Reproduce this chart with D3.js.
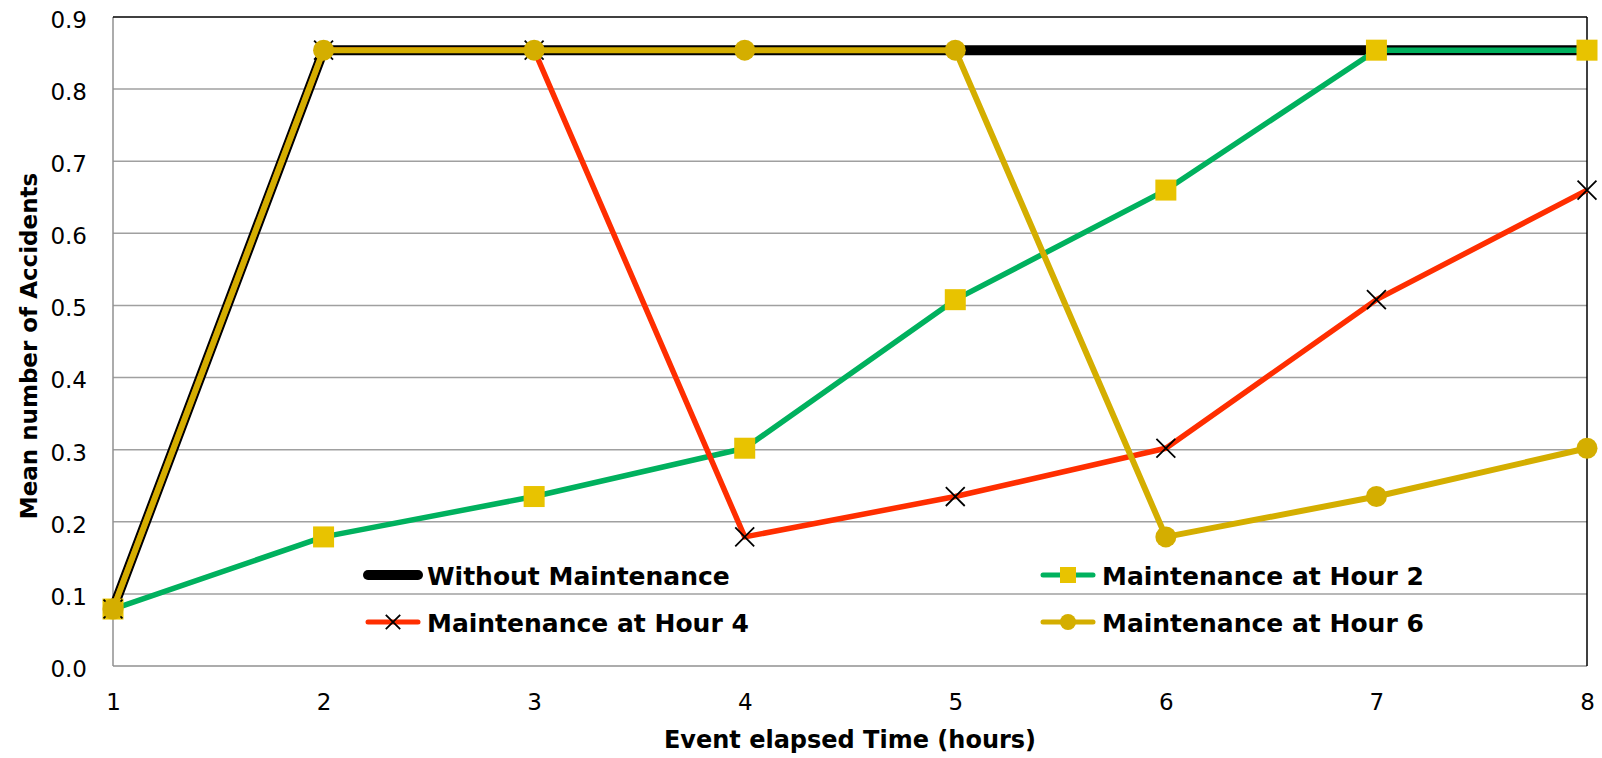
<!DOCTYPE html>
<html>
<head>
<meta charset="utf-8">
<script src="https://cdn.jsdelivr.net/npm/d3@7"></script>
<style>
  body { margin: 0; background: #fff; }
  text { font-family: "DejaVu Sans", Verdana, sans-serif; }
</style>
</head>
<body>
<svg id="chart" width="1602" height="758"></svg>
<script>
// hours on the x axis
const hours = [1, 2, 3, 4, 5, 6, 7, 8]
const yTicks = [0, 0.1, 0.2, 0.3, 0.4, 0.5, 0.6, 0.7, 0.8, 0.9]

// mean number of accidents per scenario
const withoutMaint = [0.079, 0.854, 0.854, 0.854, 0.854, 0.854, 0.854, 0.854]
const maintHour2 = [0.079, 0.179, 0.235, 0.302, 0.508, 0.66, 0.854, 0.854]
const maintHour4 = [0.079, 0.854, 0.854, 0.179, 0.235, 0.302, 0.508, 0.66]
const maintHour6 = [0.079, 0.854, 0.854, 0.854, 0.854, 0.179, 0.235, 0.302]

const seriesNames = ["Without Maintenance", "Maintenance at Hour 2", "Maintenance at Hour 4", "Maintenance at Hour 6"]

const plotL = 113, plotR = 1587, plotT = 17, plotB = 666

const svg = d3.select("#chart")

const x = d3.scaleLinear().domain([1, 8]).range([plotL, plotR])
const y = d3.scaleLinear().domain([0, 0.9]).range([plotB, plotT])

// gridlines
svg.append("g")
    .selectAll("line")
    .data(yTicks.slice(1, -1))
    .enter()
    .append("line")
    .attr("x1", plotL).attr("x2", plotR)
    .attr("y1", d => y(d)).attr("y2", d => y(d))
    .attr("stroke", "#a0a0a0")
    .attr("stroke-width", 1.5)

// plot frame: grey left/bottom, black top/right
svg.append("line").attr("x1", plotL).attr("x2", plotL).attr("y1", plotT).attr("y2", plotB)
    .attr("stroke", "#909090").attr("stroke-width", 1.5)
svg.append("line").attr("x1", plotL).attr("x2", plotR).attr("y1", plotB).attr("y2", plotB)
    .attr("stroke", "#909090").attr("stroke-width", 1.5)
svg.append("line").attr("x1", plotL).attr("x2", plotR).attr("y1", plotT).attr("y2", plotT)
    .attr("stroke", "#000").attr("stroke-width", 1.5)
svg.append("line").attr("x1", plotR).attr("x2", plotR).attr("y1", plotT).attr("y2", plotB)
    .attr("stroke", "#000").attr("stroke-width", 1.5)

// axes
const yAxis = svg.append("g")
    .attr("transform", "translate(" + plotL + ",3)")
    .call(d3.axisLeft(y).tickValues(yTicks).tickFormat(d3.format(".1f")).tickSize(0).tickPadding(26))
yAxis.select(".domain").remove()
yAxis.selectAll("text").attr("font-size", 23).attr("fill", "#000")

const xAxis = svg.append("g")
    .attr("transform", "translate(0," + plotB + ")")
    .call(d3.axisBottom(x).tickValues(hours).tickFormat(d3.format("d")).tickSize(0).tickPadding(28))
xAxis.select(".domain").remove()
xAxis.selectAll("text").attr("font-size", 23).attr("fill", "#000")

// axis titles
svg.append("text")
    .attr("x", 850).attr("y", 748)
    .attr("text-anchor", "middle")
    .attr("font-size", 24).attr("font-weight", "bold")
    .text("Event elapsed Time (hours)")

svg.append("text")
    .attr("transform", "translate(37,346) rotate(-90)")
    .attr("text-anchor", "middle")
    .attr("font-size", 23).attr("font-weight", "bold")
    .text("Mean number of Accidents")

const line = d3.line()
    .x((d, i) => x(hours[i]))
    .y(d => y(d))

const series = [
    {vals: withoutMaint, color: "#000000", w: 10, marker: "none"},
    {vals: maintHour2, color: "#00b15e", w: 5.5, marker: "square"},
    {vals: maintHour4, color: "#ff2e00", w: 5.5, marker: "cross"},
    {vals: maintHour6, color: "#d4ae00", w: 6, marker: "circle"}
]

function drawMarker(g, kind, cx, cy, sz) {
    if (kind == "square") {
        g.append("rect")
            .attr("x", cx - sz / 2).attr("y", cy - sz / 2)
            .attr("width", sz).attr("height", sz)
            .attr("fill", "#e8c300")
    } else if (kind == "circle") {
        g.append("circle")
            .attr("cx", cx).attr("cy", cy).attr("r", sz / 2)
            .attr("fill", "#d4ae00")
    } else if (kind == "cross") {
        const h = sz * 0.45
        g.append("path")
            .attr("d", "M" + (cx - h) + "," + (cy - h) + "L" + (cx + h) + "," + (cy + h) +
                "M" + (cx + h) + "," + (cy - h) + "L" + (cx - h) + "," + (cy + h))
            .attr("stroke", "#000").attr("stroke-width", 1.8)
    }
}

// lines then markers, in series order
series.forEach(s => {
    svg.append("path")
        .datum(s.vals)
        .attr("d", line)
        .attr("fill", "none")
        .attr("stroke", s.color)
        .attr("stroke-width", s.w)
        .attr("stroke-linejoin", "round")
    const g = svg.append("g")
    s.vals.forEach((v, i) => drawMarker(g, s.marker, x(hours[i]), y(v), 21))
})

// legend
const legendPos = [[368, 575], [1043, 575], [368, 622], [1043, 622]]
series.forEach((s, i) => {
    const lx = legendPos[i][0], ly = legendPos[i][1]
    const g = svg.append("g")
    g.append("line")
        .attr("x1", lx).attr("x2", lx + 50)
        .attr("y1", ly).attr("y2", ly)
        .attr("stroke", s.color)
        .attr("stroke-width", i == 0 ? 10 : 5)
        .attr("stroke-linecap", "round")
    drawMarker(g, s.marker, lx + 25, ly, 16)
    g.append("text")
        .attr("x", lx + 59).attr("y", ly + 10)
        .attr("font-size", 25).attr("font-weight", "bold")
        .text(seriesNames[i])
})
</script>
</body>
</html>
